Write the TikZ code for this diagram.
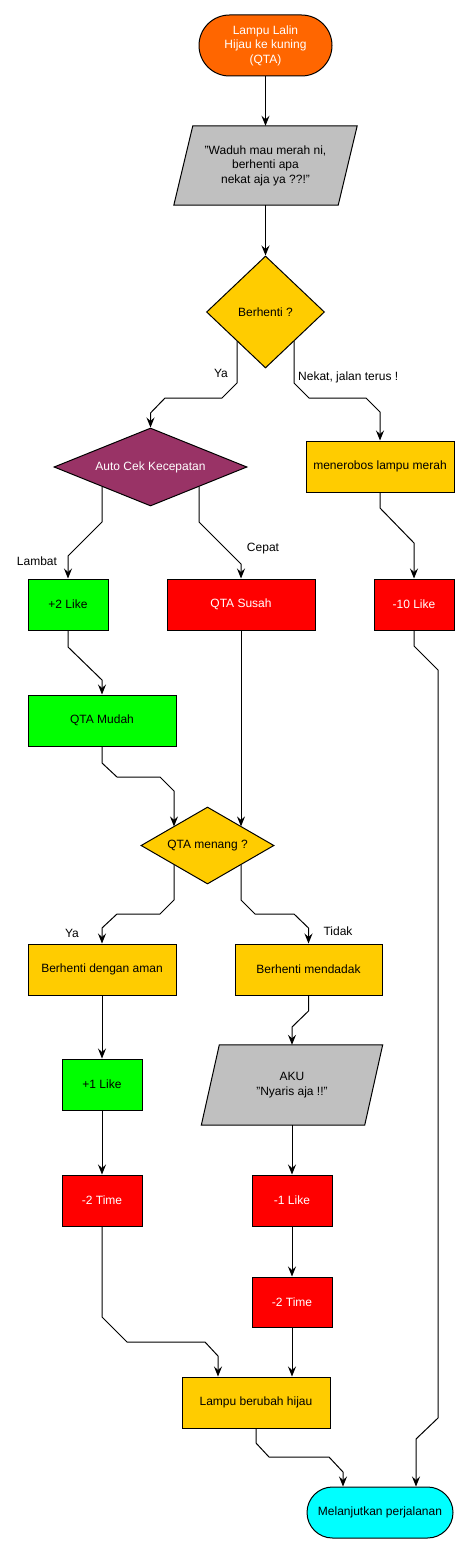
\documentclass[tikz,border=0pt]{standalone}
\usepackage{fontspec}
\setmainfont{Liberation Sans}
\usetikzlibrary{arrows.meta,shapes.geometric,backgrounds}
\definecolor{orng}{HTML}{FF6600}
\definecolor{ylw}{HTML}{FFCC00}
\definecolor{grn}{HTML}{00FF00}
\definecolor{rd}{HTML}{FF0000}
\definecolor{slv}{HTML}{C0C0C0}
\definecolor{prp}{HTML}{993366}
\definecolor{cyn}{HTML}{00FFFF}
\begin{document}
\begin{tikzpicture}[x=1pt,y=-1pt,
  every node/.style={font=\fontsize{12}{14.4}\selectfont, inner sep=0pt, align=center},
  box/.style={draw=black, line width=1pt, minimum width=#1, minimum height=51pt},
  term/.style={draw=black, line width=1pt, rounded corners=25.5pt, minimum width=146pt, minimum height=51pt},
  dia/.style={shape=diamond, draw=black, line width=1pt},
  paratext/.style={minimum height=80pt},
  parafill/.style={fill=slv, draw=black, line width=1pt},
  conn/.style={draw=black, line width=1pt, -{Stealth[length=10pt,width=8pt,inset=3.5pt]}},
  lbl/.style={font=\fontsize{12}{14.4}\selectfont, text=black}
]
\useasboundingbox (0,0) rectangle (469,1554);

% nodes
\node[draw=black, line width=1pt, rounded corners=30.5pt, minimum width=133pt, minimum height=61pt, fill=orng, text=white]
  (start) at (265.5,45.5) {Lampu Lalin\\Hijau ke kuning\\(QTA)};
\node[paratext, minimum width=183pt, minimum height=79pt] (waduh) at (265.5,165.5) {"Waduh mau merah ni,\\berhenti apa\\nekat aja ya ??!"};
\node[dia, fill=ylw, minimum width=118pt, minimum height=112pt, aspect=1.05] (berhenti) at (265.5,312) {Berhenti ?};
\node[dia, fill=prp, text=white, minimum width=193pt, minimum height=78pt, aspect=2.47] (autocek) at (150.5,467) {Auto Cek Kecepatan};
\node[box=148pt, fill=ylw] (menerobos) at (380,466.5) {menerobos lampu merah};
\node[box=80pt, fill=grn] (plus2) at (68,604.5) {+2 Like};
\node[box=148pt, fill=rd, text=white] (susah) at (241,604.5) {QTA Susah};
\node[box=80pt, fill=rd, text=white] (min10) at (414,604.5) {-10 Like};
\node[box=148pt, fill=grn] (mudah) at (102,720.5) {QTA Mudah};
\node[dia, fill=ylw, minimum width=133pt, minimum height=77pt, aspect=1.73] (menang) at (207.5,845.5) {QTA menang ?};
\node[box=148pt, fill=ylw] (aman) at (102,969.5) {Berhenti dengan aman};
\node[box=147pt, fill=ylw] (mendadak) at (308.5,969.5) {Berhenti mendadak};
\node[box=80pt, fill=grn] (plus1) at (102,1084.5) {+1 Like};
\node[box=80pt, fill=rd, text=white] (time1) at (102,1200.5) {-2 Time};
\node[paratext, minimum width=181pt, minimum height=80pt] (aku) at (292,1085) {AKU\\"Nyaris aja !!"};
\node[box=80pt, fill=rd, text=white] (min1) at (292,1200.5) {-1 Like};
\node[box=80pt, fill=rd, text=white, minimum height=50pt] (time2) at (292,1302) {-2 Time};
\node[box=148pt, fill=ylw] (lampu) at (256,1402.5) {Lampu berubah hijau};
\node[term, fill=cyn] (lanjut) at (380,1512.5) {Melanjutkan perjalanan};

% labels
\node[lbl] (lya1) at (221,373) {Ya};
\node[lbl, anchor=west] (lnekat) at (298,377) {Nekat, jalan terus !};
\node[lbl] (llambat) at (37,561) {Lambat};
\node[lbl] (lcepat) at (263,549) {Cepat};
\node[lbl] (lya2) at (72,933) {Ya};
\node[lbl] (ltidak) at (338,931) {Tidak};

\begin{scope}[on background layer]
  \filldraw[parafill] ([xshift=19pt]waduh.north west) -- (waduh.north east) -- ([xshift=-19pt]waduh.south east) -- (waduh.south west) -- cycle;
  \filldraw[parafill] ([xshift=18pt]aku.north west) -- (aku.north east) -- ([xshift=-18pt]aku.south east) -- (aku.south west) -- cycle;

  \draw[conn] (start.south) -- (waduh.north);
  \draw[conn] (waduh.south) -- (berhenti.north);
  \draw[conn] ([shift={(-28.5,28.95)}]berhenti.center) -- (237,383) -- (222,398) -- (165,398) -- (150.5,413) -- (autocek.north);
  \draw[conn] ([shift={(28.5,28.95)}]berhenti.center) -- (294,383) -- (309,398) -- (366,398) -- (380,412) -- (menerobos.north);
  \draw[conn] ([shift={(-48.5,19.4)}]autocek.center) -- (102,522) -- (68,556) -- (plus2.north);
  \draw[conn] ([shift={(48.5,19.4)}]autocek.center) -- (199,522) -- (241,564) -- (susah.north);
  \draw[conn] (menerobos.south) -- (380,508) -- (414,543) -- (min10.north);
  \draw[conn] (min10.south) -- (414,646) -- (438,670) -- (438,1418) -- (416,1439) -- ([xshift=36pt]lanjut.north);
  \draw[conn] (plus2.south) -- (68,647) -- (102,680) -- (mudah.north);
  \draw[conn] (mudah.south) -- (102,763) -- (117,777) -- (160,777) -- (174,791) -- ([shift={(-33.5,-19.1)}]menang.center);
  \draw[conn] (susah.south) -- ([shift={(33.5,-19.1)}]menang.center);
  \draw[conn] ([shift={(-33.5,19.1)}]menang.center) -- (174,900) -- (160,914) -- (117,914) -- (102,928) -- (aman.north);
  \draw[conn] ([shift={(33.5,19.1)}]menang.center) -- (241,900) -- (255,914) -- (294,914) -- (308.5,928) -- (mendadak.north);
  \draw[conn] (aman.south) -- (plus1.north);
  \draw[conn] (plus1.south) -- (time1.north);
  \draw[conn] (time1.south) -- (102,1317) -- (127,1342) -- (205,1342) -- (218,1356) -- ([xshift=-38pt]lampu.north);
  \draw[conn] (mendadak.south) -- (308.5,1011) -- (292,1027) -- (aku.north);
  \draw[conn] (aku.south) -- (min1.north);
  \draw[conn] (min1.south) -- (time2.north);
  \draw[conn] (time2.south) -- ([xshift=36pt]lampu.north);
  \draw[conn] (lampu.south) -- (256,1443) -- (269,1457) -- (329,1457) -- (343,1472) -- ([xshift=-37pt]lanjut.north);
\end{scope}
\end{tikzpicture}
\end{document}
